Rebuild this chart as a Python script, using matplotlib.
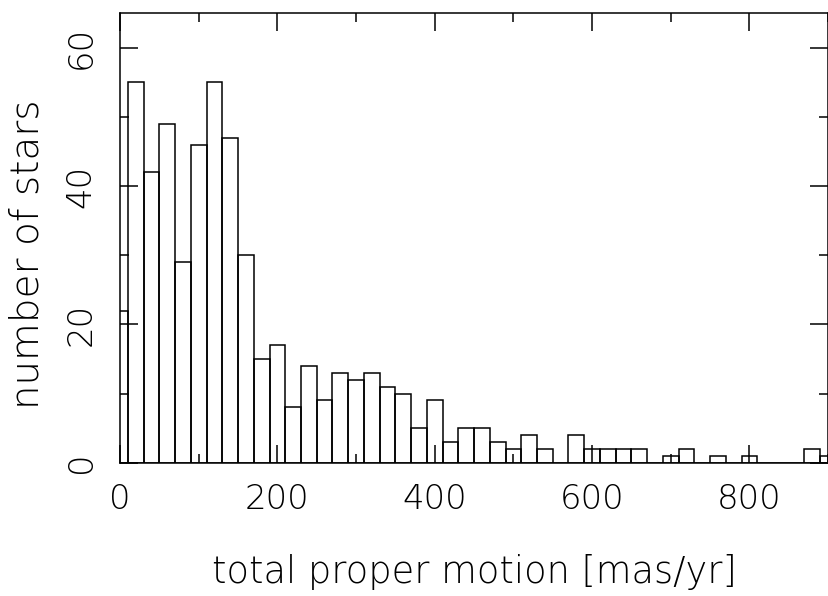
import matplotlib
matplotlib.use("Agg")
import matplotlib.pyplot as plt
from matplotlib.ticker import MultipleLocator

# bin centres (mas/yr) and counts
bin_centers = [0, 20, 40, 60, 80, 100, 120, 140, 160, 180,
               200, 220, 240, 260, 280, 300, 320, 340, 360, 380,
               400, 420, 440, 460, 480, 500, 520, 540, 560, 580,
               600, 620, 640, 660, 680, 700, 720, 740, 760, 780,
               800, 820, 840, 860, 880, 900]
counts = [22, 55, 42, 49, 29, 46, 55, 47, 30, 15,
          17, 8, 14, 9, 13, 12, 13, 11, 10, 5,
          9, 3, 5, 5, 3, 2, 4, 2, 0, 4,
          2, 2, 2, 2, 0, 1, 2, 0, 1, 0,
          1, 0, 0, 0, 2, 1]
bin_width = 20
x_ticks = [0, 200, 400, 600, 800]
y_ticks = [0, 20, 40, 60]

plt.rcParams['font.family'] = ['DejaVu Sans']
plt.rcParams['font.weight'] = 200

fig = plt.figure(figsize=(8.29, 5.96), dpi=100)
ax = fig.add_axes([0.1448, 0.2237, 0.8541, 0.7540])

ax.bar(bin_centers, counts, width=bin_width, fill=False,
       edgecolor='black', linewidth=1.1)

ax.set_xlim(0, 900)
ax.set_ylim(0, 65)
ax.set_xticks(x_ticks)
ax.set_yticks(y_ticks)
ax.xaxis.set_minor_locator(MultipleLocator(100))
ax.yaxis.set_minor_locator(MultipleLocator(10))

for s in ax.spines.values():
    s.set_linewidth(1.1)

ax.tick_params(which='both', direction='in', top=True, right=True,
               width=1.1, colors='black')
ax.tick_params(which='major', length=12.7)
ax.tick_params(which='minor', length=6.5)
ax.tick_params(axis='x', which='major', labelsize=24.5, pad=14.5)
ax.tick_params(axis='y', which='major', labelsize=24.5, pad=16)
for lab in ax.get_yticklabels():
    lab.set_rotation(90)
    lab.set_va('center')
    lab.set_fontweight(200)
for lab in ax.get_xticklabels():
    lab.set_fontweight(200)

ax.set_xlabel('total proper motion [mas/yr]', fontsize=26.5, fontweight=200)
ax.set_ylabel('number of stars', fontsize=28, fontweight=200)
ax.xaxis.set_label_coords(0.5, -0.2677)
ax.xaxis.label.set_va('baseline')
ax.yaxis.set_label_coords(-0.1045, 0.464)

fig.savefig('out.png', dpi=100)
